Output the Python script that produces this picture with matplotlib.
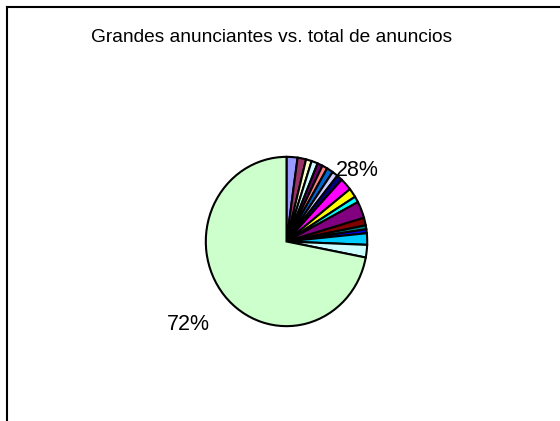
import matplotlib
matplotlib.use("Agg")
import matplotlib.pyplot as plt
from matplotlib.lines import Line2D

title = "Grandes anunciantes vs. total de anuncios"
# shares of advertisers (percent); large advertisers first, rest last
small_shares = [2.2, 1.7, 1.15, 1.25, 1.05, 1.05, 1.3, 1.15, 1.15, 2.4,
                1.75, 1.15, 3.2, 1.45, 0.75, 0.75, 2.2, 2.4]
rest_share = 72.0
label_small = "28%"
label_rest = "72%"

colors_small = ["#9999FF", "#993366", "#FFFFCC", "#CCFFFF", "#660066", "#FF8080",
                "#0066CC", "#CCCCFF", "#000080", "#FF00FF", "#FFFF00", "#00FFFF",
                "#800080", "#800000", "#008080", "#0000FF", "#00CCFF", "#CCFFFF"]
color_rest = "#CCFFCC"

W, H = 560, 421
fig = plt.figure(figsize=(W / 100, H / 100), dpi=100)
fig.patch.set_facecolor("white")

# frame lines (left and top only visible)
fig.add_artist(Line2D([6.5 / W, 6.5 / W], [0, 1 - 7 / H], transform=fig.transFigure,
                      color="black", lw=1.5))
fig.add_artist(Line2D([6.5 / W, 1], [1 - 7 / H, 1 - 7 / H], transform=fig.transFigure,
                      color="black", lw=1.5))

fig.text(272 / W, 1 - 37 / H, title, ha="center", va="center",
         fontsize=13.8, family="Liberation Sans")

cx, cy = 286.5, 241.5
rw, rh = 81.5, 85.5
ax = fig.add_axes([(cx - rw) / W, (H - cy - rh) / H, 2 * rw / W, 2 * rh / H])
values = small_shares + [rest_share]
cols = colors_small + [color_rest]
ax.pie(values, colors=cols, startangle=90, counterclock=False,
       wedgeprops=dict(edgecolor="black", linewidth=1.5))
ax.set_aspect("auto")
ax.set_xlim(-1.01, 1.01)
ax.set_ylim(-1.01, 1.01)
ax.axis("off")

fig.text(357 / W, 1 - 171 / H, label_small, ha="center", va="center",
         fontsize=15.5, family="Liberation Sans")
fig.text(188 / W, 1 - 325 / H, label_rest, ha="center", va="center",
         fontsize=15.5, family="Liberation Sans")

fig.savefig("out.png", dpi=100)
